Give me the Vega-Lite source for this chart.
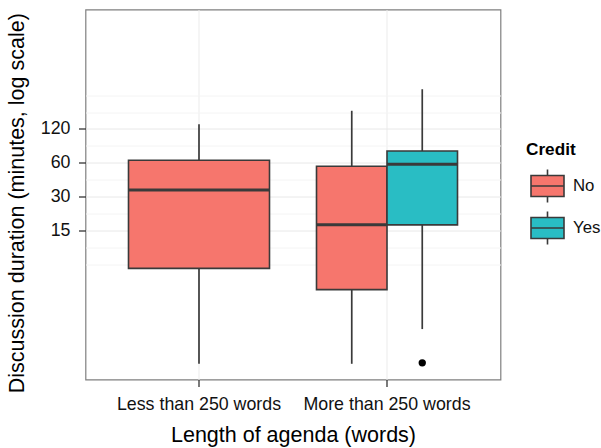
{
  "$schema": "https://vega.github.io/schema/vega-lite/v6.json",
  "width": 415,
  "height": 370,
  "autosize": {"type": "none"},
  "padding": {"left": 85.5, "top": 9.5, "right": 100.5, "bottom": 68.5},
  "background": "white",
  "config": {
    "font": "Liberation Sans",
    "view": {"stroke": "#7F7F7F", "strokeWidth": 1.2},
    "axis": {
      "domain": false,
      "ticks": true,
      "tickColor": "#333333",
      "tickWidth": 1.3,
      "tickSize": 7,
      "labelFontSize": 17.8,
      "labelColor": "#111111",
      "labelPadding": 8.5,
      "labelLimit": 0,
      "titleFontSize": 21.5,
      "titleFontWeight": "normal",
      "titleColor": "#000000",
      "gridColor": "#EBEBEB",
      "gridWidth": 1
    },
    "legend": {
      "orient": "none",
      "legendX": 440.5,
      "legendY": 131.2,
      "padding": 0,
      "titleFontSize": 17.2,
      "titleFontWeight": "bold",
      "titleColor": "#000000",
      "titlePadding": 10.6,
      "labelFontSize": 16.8,
      "labelColor": "#111111",
      "labelOffset": 8,
      "labelLimit": 0,
      "rowPadding": 1,
      "symbolOffset": 4,
      "symbolSize": 1089,
      "symbolType": "M-1,-0.64H1V0.64H-1Z M-1,0H1 M0,-0.64V-1 M0,0.64V1",
      "symbolStrokeColor": "#3A3A3A",
      "symbolStrokeWidth": 1.6
    }
  },
  "datasets": {
    "boxes": [
      {"agenda": "Less than 250 words", "credit": "No", "lower": 1.0, "q1": 7.0, "median": 34.6, "q3": 63.4, "upper": 132},
      {"agenda": "More than 250 words", "credit": "No", "lower": 1.0, "q1": 4.54, "median": 17.0, "q3": 56.1, "upper": 174},
      {"agenda": "More than 250 words", "credit": "Yes", "lower": 2.03, "q1": 17.0, "median": 58.4, "q3": 76.6, "upper": 270}
    ],
    "outliers": [
      {"agenda": "More than 250 words", "credit": "Yes", "minutes": 1.02}
    ]
  },
  "layer": [
    {
      "data": {"name": "boxes"},
      "transform": [{"filter": "datum.agenda === 'Less than 250 words'"}],
      "layer": [
        {
          "mark": {"type": "rule", "color": "#3A3A3A", "strokeWidth": 1.7},
          "encoding": {
            "x": {
              "field": "agenda", "type": "nominal",
              "scale": {"domain": ["Less than 250 words", "More than 250 words"], "paddingInner": 0.25, "paddingOuter": 0.2287},
              "axis": {"title": "Length of agenda (words)", "labelAngle": 0, "grid": true, "titlePadding": 12}
            },
            "y": {
              "field": "lower", "type": "quantitative",
              "scale": {"type": "log", "base": 2, "domain": [0.726, 1372], "nice": false},
              "axis": {
                "title": "Discussion duration (minutes, log scale)",
                "grid": true,
                "values": [7.5, 10.607, 15, 21.213, 30, 42.426, 60, 84.853, 120, 169.706, 240],
                "labelExpr": "indexof([15, 30, 60, 120], datum.value) >= 0 ? toString(datum.value) : ''",
                "tickOpacity": {"condition": {"test": "indexof([15, 30, 60, 120], datum.value) >= 0", "value": 1}, "value": 0},
                "gridColor": {"condition": {"test": "indexof([15, 30, 60, 120], datum.value) >= 0", "value": "#E8E8E8"}, "value": "#F4F4F4"},
                "titlePadding": 12,
                "titleY": 193.2
              }
            },
            "y2": {"field": "upper"}
          }
        },
        {
          "mark": {"type": "bar", "stroke": "#3A3A3A", "strokeWidth": 1.6},
          "encoding": {
            "x": {"field": "agenda", "type": "nominal"},
            "y": {"field": "q1", "type": "quantitative"},
            "y2": {"field": "q3"},
            "fill": {
              "field": "credit", "type": "nominal", "title": "Credit",
              "scale": {"domain": ["No", "Yes"], "range": ["#F6766D", "#29BDC4"]}
            }
          }
        },
        {
          "mark": {"type": "bar", "stroke": "#3A3A3A", "strokeWidth": 3, "fillOpacity": 0},
          "encoding": {
            "x": {"field": "agenda", "type": "nominal"},
            "y": {"field": "median", "type": "quantitative"},
            "y2": {"field": "median"}
          }
        }
      ]
    },
    {
      "data": {"name": "boxes"},
      "transform": [{"filter": "datum.agenda === 'More than 250 words'"}],
      "layer": [
        {
          "mark": {"type": "rule", "color": "#3A3A3A", "strokeWidth": 1.7},
          "encoding": {
            "x": {"field": "agenda", "type": "nominal"},
            "xOffset": {"field": "credit", "type": "nominal", "scale": {"domain": ["No", "Yes"], "paddingInner": 0, "paddingOuter": 0}},
            "y": {"field": "lower", "type": "quantitative"},
            "y2": {"field": "upper"}
          }
        },
        {
          "mark": {"type": "bar", "stroke": "#3A3A3A", "strokeWidth": 1.6},
          "encoding": {
            "x": {"field": "agenda", "type": "nominal"},
            "xOffset": {"field": "credit", "type": "nominal"},
            "y": {"field": "q1", "type": "quantitative"},
            "y2": {"field": "q3"},
            "fill": {"field": "credit", "type": "nominal", "title": "Credit"}
          }
        },
        {
          "mark": {"type": "bar", "stroke": "#3A3A3A", "strokeWidth": 3, "fillOpacity": 0},
          "encoding": {
            "x": {"field": "agenda", "type": "nominal"},
            "xOffset": {"field": "credit", "type": "nominal"},
            "y": {"field": "median", "type": "quantitative"},
            "y2": {"field": "median"}
          }
        }
      ]
    },
    {
      "data": {"name": "outliers"},
      "mark": {"type": "point", "filled": true, "color": "#000000", "opacity": 1, "size": 54},
      "encoding": {
        "x": {"field": "agenda", "type": "nominal"},
        "xOffset": {"field": "credit", "type": "nominal"},
        "y": {"field": "minutes", "type": "quantitative"}
      }
    }
  ]
}
